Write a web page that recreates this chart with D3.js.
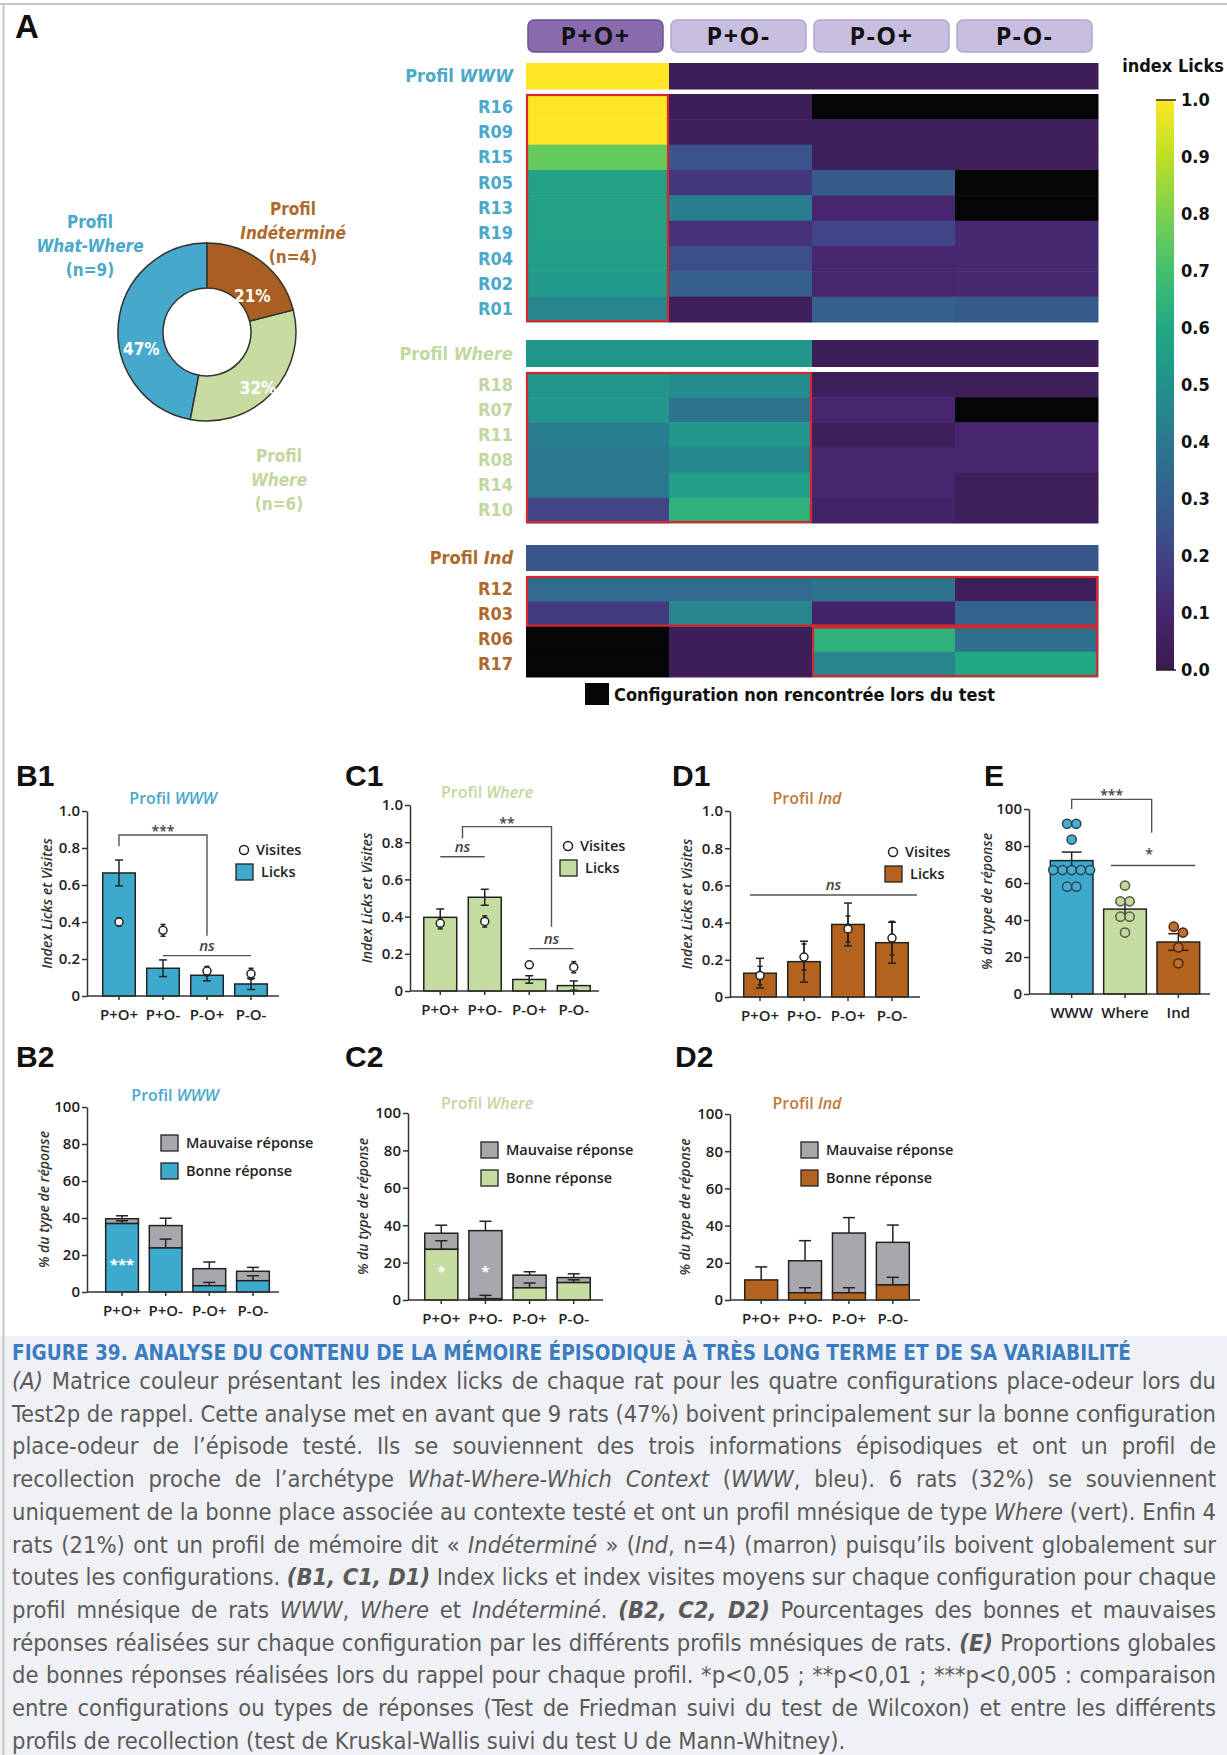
<!DOCTYPE html>
<html>
<head>
<meta charset="utf-8">
<script src="https://cdn.jsdelivr.net/npm/d3@7"></script>
<style>
  body { margin: 0; background: #fff; }
</style>
</head>
<body>
<svg id="fig"></svg>
<script>
// ---------- data ----------
const configs = ["P+O+", "P+O-", "P-O+", "P-O-"];
const profils = ["WWW", "Where", "Ind"];
const profilPct = [47, 32, 21];
const profilN = [9, 6, 4];
const profilLong = ["What-Where", "Where", "Indéterminé"];

// heatmap (index licks, null = configuration non rencontrée)
const rowsWWW = ["R16", "R09", "R15", "R05", "R13", "R19", "R04", "R02", "R01"];
const meanWWW = [1.00, 0.03, 0.03, 0.03];
const licksWWW = [
  [1.00, 0.03, null, null],
  [1.00, 0.04, 0.04, 0.04],
  [0.76, 0.26, 0.04, 0.04],
  [0.57, 0.16, 0.29, null],
  [0.57, 0.42, 0.10, null],
  [0.57, 0.14, 0.20, 0.11],
  [0.56, 0.24, 0.10, 0.11],
  [0.54, 0.30, 0.09, 0.11],
  [0.45, 0.04, 0.30, 0.28]
];
const rowsWhere = ["R18", "R07", "R11", "R08", "R14", "R10"];
const meanWhere = [0.52, 0.52, 0.03, 0.03];
const licksWhere = [
  [0.52, 0.48, 0.04, 0.04],
  [0.52, 0.38, 0.10, null],
  [0.42, 0.52, 0.04, 0.10],
  [0.40, 0.46, 0.10, 0.10],
  [0.40, 0.56, 0.10, 0.04],
  [0.20, 0.64, 0.08, 0.04]
];
const rowsInd = ["R12", "R03", "R06", "R17"];
const meanInd = [0.27, 0.27, 0.27, 0.27];
const licksInd = [
  [0.35, 0.35, 0.38, 0.04],
  [0.17, 0.45, 0.08, 0.32],
  [null, 0.03, 0.64, 0.37],
  [null, 0.03, 0.45, 0.60]
];
const colorbarTicks = [0, 0.1, 0.2, 0.3, 0.4, 0.5, 0.6, 0.7, 0.8, 0.9, 1.0];

// B1, C1, D1 : index licks (bars) and index visites (circles), mean +/- sem
const licksB1 = [0.665, 0.150, 0.112, 0.065];
const licksB1Err = [0.070, 0.045, 0.030, 0.030];
const visitesB1 = [0.400, 0.355, 0.135, 0.120];
const visitesB1Err = [0.022, 0.032, 0.025, 0.030];

const licksC1 = [0.396, 0.504, 0.062, 0.029];
const licksC1Err = [0.045, 0.043, 0.020, 0.025];
const visitesC1 = [0.364, 0.374, 0.141, 0.128];
const visitesC1Err = [0.030, 0.030, 0.015, 0.030];

const licksD1 = [0.128, 0.190, 0.390, 0.292];
const licksD1Err = [0.080, 0.110, 0.115, 0.110];
const visitesD1 = [0.115, 0.215, 0.366, 0.317];
const visitesD1Err = [0.050, 0.070, 0.070, 0.090];

// B2, C2, D2 : % bonne / mauvaise réponse
const bonneB2 = [37.0, 23.8, 3.4, 6.1];
const bonneB2Err = [1.5, 4.8, 1.8, 2.7];
const mauvaiseB2 = [2.6, 12.1, 9.2, 5.1];
const mauvaiseB2Err = [1.6, 4.0, 3.6, 2.1];

const bonneC2 = [27.1, 0.7, 6.5, 9.3];
const bonneC2Err = [4.6, 1.8, 2.6, 1.5];
const mauvaiseC2 = [8.6, 36.4, 6.8, 2.7];
const mauvaiseC2Err = [4.3, 5.0, 1.8, 2.0];

const bonneD2 = [10.8, 3.9, 3.9, 8.1];
const bonneD2Err = [7.0, 2.7, 2.7, 4.1];
const mauvaiseD2 = [0, 17.2, 32.1, 22.9];
const mauvaiseD2Err = [0, 10.8, 8.3, 9.3];

// E : % bonnes réponses par profil
const meanE = [72.1, 45.9, 28.1];
const errE = [4.6, 3.6, 4.5];
const pointsWWW = [92, 92, 83.5, 67, 67, 67, 67, 67, 58, 58];
const pointsWhere = [58.6, 50.1, 50.1, 41.8, 41.8, 33.2];
const pointsInd = [36.4, 33.2, 25.2, 16.6];

// ---------- style ----------
const SANS = "'Open Sans', 'Liberation Sans', sans-serif";
const NARROW = "'Liberation Sans Narrow', 'Arial Narrow', 'DejaVu Sans Condensed', sans-serif";
const BOLD = "'Liberation Sans', Arial, sans-serif";
const col = {
  WWW: "#3da9cd", Where: "#c6dda1", Ind: "#b4631f", gray: "#a8a8ac",
  txtWWW: "#4aa8ca", txtWhere: "#c2d7a0", txtInd: "#ad6a2b", titleInd: "#bd7b3e"
};

const W = 1227, H = 1755;
const svg = d3.select("#fig").attr("width", W).attr("height", H);

svg.append("rect").attr("width", W).attr("height", H).attr("fill", "#fff");
svg.append("rect").attr("x", 0).attr("y", 1336).attr("width", W).attr("height", H - 1336).attr("fill", "#f0f1f4");
svg.append("line").attr("x1", 0).attr("x2", W).attr("y1", 4).attr("y2", 4).attr("stroke", "#c6c6c6").attr("stroke-width", 2);
svg.append("line").attr("x1", 3.5).attr("x2", 3.5).attr("y1", 4).attr("y2", H).attr("stroke", "#c6c6c6").attr("stroke-width", 2);

// panel letter
function letter(t, x, y, size) {
  svg.append("text").attr("x", x).attr("y", y).text(t)
    .style("font-family", BOLD).style("font-weight", "bold").style("font-size", (size || 30) + "px").attr("fill", "#111");
}
letter("A", 15, 38, 33);

// ---------- donut ----------
const donut = svg.append("g").attr("transform", "translate(207,332)");
const pie = d3.pie().sort(null).value(d => d).startAngle(2 * Math.PI).endAngle(0);
const arcs = pie(profilPct);
const arc = d3.arc().innerRadius(44).outerRadius(89);
donut.selectAll("path").data(arcs).join("path")
  .attr("d", arc)
  .attr("fill", (d, i) => ["#46a9cb", "#c8dca2", "#a95f22"][i])
  .attr("stroke", "#333").attr("stroke-width", 1.5);
// where inside each slice the percentage sits (fraction of the slice, radius)
const labelFrac = [0.38, 0.54, 0.68];
const labelR = [68, 76, 58];
function labelAngle(d, i) {
  const a0 = Math.min(d.startAngle, d.endAngle), a1 = Math.max(d.startAngle, d.endAngle);
  return a0 + (a1 - a0) * labelFrac[i];
}
donut.selectAll("text.pct").data(arcs).join("text")
  .attr("class", "pct")
  .attr("x", (d, i) => Math.sin(labelAngle(d, i)) * labelR[i])
  .attr("y", (d, i) => -Math.cos(labelAngle(d, i)) * labelR[i] + 6)
  .attr("text-anchor", "middle")
  .style("font-family", NARROW).style("font-weight", "bold").style("font-size", "17px")
  .attr("fill", "#fff")
  .text(d => d.data + "%");

const donutLabelPos = [[90, 222], [279, 456], [293, 209]];
const donutLabelCol = [col.txtWWW, col.txtWhere, col.txtInd];
profils.forEach((p, i) => {
  const [lx, ly] = donutLabelPos[i];
  const t = svg.append("text").attr("text-anchor", "middle")
    .style("font-family", NARROW).style("font-weight", "bold").style("font-size", "17px")
    .attr("fill", donutLabelCol[i]);
  t.append("tspan").attr("x", lx).attr("y", ly + 6).text("Profil");
  t.append("tspan").attr("x", lx).attr("y", ly + 30).style("font-style", "italic").text(profilLong[i]);
  t.append("tspan").attr("x", lx).attr("y", ly + 54).text("(n=" + profilN[i] + ")");
});

// ---------- heatmap ----------
const hmX = d3.scaleBand().domain(configs).range([526, 1098]);
const cmap = d3.piecewise(d3.interpolateRgb, [
  "#3a1a4e", "#47266f", "#414487", "#355f8d", "#2a788e", "#21918c",
  "#22a884", "#44bf70", "#7ad151", "#bddf26", "#fde725"
]);
const viridis = d3.scaleSequential(cmap).domain([0, 1]);
const hm = svg.append("g");

// tabs
hm.selectAll("rect.tab").data(configs).join("rect")
  .attr("x", d => hmX(d) + 2).attr("y", 20)
  .attr("width", hmX.bandwidth() - 8).attr("height", 32).attr("rx", 6)
  .attr("fill", (d, i) => i === 0 ? "#8a6cae" : "#c8bfe0")
  .attr("stroke", (d, i) => i === 0 ? "#6d5391" : "#b2a7cf").attr("stroke-width", 1.5);
hm.selectAll("text.tab").data(configs).join("text")
  .attr("x", d => hmX(d) + hmX.bandwidth() / 2 - 2).attr("y", 45)
  .attr("text-anchor", "middle")
  .style("font-family", SANS).style("font-weight", "bold").style("font-size", "25px")
  .style("letter-spacing", "1.5px")
  .attr("fill", "#111").text(d => d);

const groups = [
  { name: "WWW", color: col.txtWWW, rows: rowsWWW, vals: licksWWW, mean: meanWWW,
    prof: [63, 89.5], band: [94, 322], boxes: [[0, 1, 0, 9]] },
  { name: "Where", color: col.txtWhere, rows: rowsWhere, vals: licksWhere, mean: meanWhere,
    prof: [340, 367], band: [372, 523], boxes: [[0, 2, 0, 6]] },
  { name: "Ind", color: col.txtInd, rows: rowsInd, vals: licksInd, mean: meanInd,
    prof: [545, 571], band: [576, 677], boxes: [[0, 4, 0, 2], [2, 4, 2, 4]] }
];

function cellFill(v) { return v === null ? "#050505" : viridis(v); }

groups.forEach(g => {
  const y = d3.scaleBand().domain(g.rows).range(g.band);
  // profile row
  hm.append("g").selectAll("rect").data(g.mean).join("rect")
    .attr("x", (d, i) => hmX(configs[i])).attr("width", hmX.bandwidth() + 0.5)
    .attr("y", g.prof[0]).attr("height", g.prof[1] - g.prof[0])
    .attr("fill", d => cellFill(d));
  const pl = hm.append("text").attr("x", 513).attr("y", (g.prof[0] + g.prof[1]) / 2 + 6)
    .attr("text-anchor", "end")
    .style("font-family", NARROW).style("font-weight", "bold").style("font-size", "18px")
    .attr("fill", g.color);
  pl.append("tspan").text("Profil ");
  pl.append("tspan").style("font-style", "italic").text(g.name);

  // rats
  g.rows.forEach((r, ri) => {
    hm.append("g").selectAll("rect").data(g.vals[ri]).join("rect")
      .attr("x", (d, i) => hmX(configs[i])).attr("width", hmX.bandwidth() + 0.5)
      .attr("y", y(r)).attr("height", y.bandwidth() + 0.5)
      .attr("fill", d => cellFill(d));
    hm.append("text").attr("x", 513).attr("y", y(r) + y.bandwidth() / 2 + 6)
      .attr("text-anchor", "end")
      .style("font-family", NARROW).style("font-weight", "bold").style("font-size", "18px")
      .attr("fill", g.color).text(r);
  });
  // red boxes
  g.boxes.forEach(([c0, c1, r0, r1]) => {
    const x0 = hmX(configs[c0]);
    const x1 = c1 < configs.length ? hmX(configs[c1]) : hmX.range()[1];
    const y0 = y(g.rows[r0]);
    const y1 = r1 < g.rows.length ? y(g.rows[r1]) : g.band[1];
    hm.append("rect").attr("x", x0 + 1).attr("y", y0 + 1)
      .attr("width", x1 - x0 - 2).attr("height", y1 - y0 - 2)
      .attr("fill", "none").attr("stroke", "#d8262d").attr("stroke-width", 2.2);
  });
});

// missing-config legend
hm.append("rect").attr("x", 585).attr("y", 683).attr("width", 24).attr("height", 22).attr("fill", "#050505");
hm.append("text").attr("x", 614).attr("y", 701)
  .style("font-family", NARROW).style("font-weight", "bold").style("font-size", "18px")
  .attr("fill", "#111").text("Configuration non rencontrée lors du test");

// colorbar
const cbY = d3.scaleLinear().domain([0, 1]).range([670, 100]);
const defs = svg.append("defs");
const grad = defs.append("linearGradient").attr("id", "cb").attr("x1", 0).attr("y1", 1).attr("x2", 0).attr("y2", 0);
d3.range(0, 1.0001, 0.05).forEach(t => grad.append("stop").attr("offset", t).attr("stop-color", viridis(t)));
hm.append("rect").attr("x", 1156).attr("y", 100).attr("width", 18).attr("height", 570).attr("fill", "url(#cb)");
hm.append("line").attr("x1", 1156).attr("x2", 1176).attr("y1", 100).attr("y2", 100).attr("stroke", "#222").attr("stroke-width", 1.5);
hm.append("line").attr("x1", 1156).attr("x2", 1176).attr("y1", 670).attr("y2", 670).attr("stroke", "#222").attr("stroke-width", 1.5);
const cbAxis = hm.append("g").attr("transform", "translate(1176,0)")
  .call(d3.axisRight(cbY).tickValues(colorbarTicks).tickFormat(d3.format(".1f")).tickSize(0).tickPadding(5));
cbAxis.select(".domain").remove();
cbAxis.selectAll("text").style("font-family", NARROW).style("font-weight", "bold").style("font-size", "18px").attr("fill", "#111");
hm.append("text").attr("x", 1173).attr("y", 72).attr("text-anchor", "middle")
  .style("font-family", NARROW).style("font-weight", "bold").style("font-size", "18px")
  .attr("fill", "#111").text("index Licks");

// ---------- bar chart helpers ----------
function centerX(x, keys, dx) {
  return d3.mean([].concat(keys), k => x(k) + x.bandwidth() / 2) + (dx || 0);
}

function axes(g, x, y, o, tickVals, fmt, title) {
  const ya = g.append("g").attr("transform", `translate(${o.axisX},0)`)
    .call(d3.axisLeft(y).tickValues(tickVals).tickFormat(fmt).tickSize(5).tickSizeOuter(0).tickPadding(2));
  ya.select(".domain").attr("stroke", "#333").attr("stroke-width", 1.5);
  ya.selectAll("line").attr("stroke", "#333").attr("stroke-width", 1.5);
  ya.selectAll("text").style("font-family", SANS).style("font-weight", 600).style("font-size", "15px").attr("fill", "#222");
  const xa = g.append("g").attr("transform", `translate(0,${y(0)})`)
    .call(d3.axisBottom(x).tickSize(4).tickSizeOuter(0).tickPadding(9));
  xa.select(".domain").remove();
  xa.selectAll("line").attr("stroke", "#333").attr("stroke-width", 1.5);
  xa.selectAll("text").style("font-family", SANS).style("font-weight", 600).style("font-size", "15px").attr("fill", "#222");
  g.append("line").attr("x1", o.axisX).attr("x2", o.xEnd).attr("y1", y(0)).attr("y2", y(0))
    .attr("stroke", "#333").attr("stroke-width", 1.5);
  g.append("text").attr("transform", `translate(${o.axisX - o.titleOff},${(y.range()[0] + y.range()[1]) / 2}) rotate(-90)`)
    .attr("text-anchor", "middle")
    .style("font-family", SANS).style("font-style", "italic").style("font-weight", 600).style("font-size", "14px")
    .attr("fill", "#333").text(title);
}

function panelTitle(o, color, name) {
  const t = svg.append("text").attr("x", o.titleX).attr("y", o.titleY).attr("text-anchor", "middle")
    .style("font-family", SANS).style("font-weight", 600).style("font-size", "16px").attr("fill", color);
  t.append("tspan").text("Profil ");
  t.append("tspan").style("font-style", "italic").text(name);
}

function errBar(g, xc, yTop, yBot, half, upOnly) {
  g.append("line").attr("x1", xc).attr("x2", xc).attr("y1", yTop).attr("y2", yBot).attr("stroke", "#222").attr("stroke-width", 1.5);
  g.append("line").attr("x1", xc - half).attr("x2", xc + half).attr("y1", yTop).attr("y2", yTop).attr("stroke", "#222").attr("stroke-width", 1.5);
  if (!upOnly) g.append("line").attr("x1", xc - half).attr("x2", xc + half).attr("y1", yBot).attr("y2", yBot).attr("stroke", "#222").attr("stroke-width", 1.5);
}

function bracket(g, x, y, b) {
  const x0 = centerX(x, b.from), x1 = centerX(x, b.to);
  g.append("path").attr("d", `M${x0},${y(b.yl)}V${y(b.top)}H${x1}V${y(b.yr)}`)
    .attr("fill", "none").attr("stroke", "#555").attr("stroke-width", 1.4);
  g.append("text").attr("x", (x0 + x1) / 2).attr("y", y(b.top) + 1).attr("text-anchor", "middle")
    .style("font-family", SANS).style("font-weight", 600).style("font-size", "14px").attr("fill", "#444").text(b.label);
}

function sigLine(g, x, y, n) {
  const x0 = centerX(x, n.from, n.dx0), x1 = centerX(x, n.to, n.dx1);
  g.append("line").attr("x1", x0).attr("x2", x1).attr("y1", y(n.y)).attr("y2", y(n.y))
    .attr("stroke", "#555").attr("stroke-width", 1.4);
  g.append("text").attr("x", (x0 + x1) / 2 + (n.tdx || 0)).attr("y", y(n.y) - (n.label === "ns" ? 5 : 6)).attr("text-anchor", "middle")
    .style("font-family", SANS).style("font-weight", 600).style("font-size", n.label === "ns" ? "15px" : "14px")
    .style("font-style", n.label === "ns" ? "italic" : "normal").attr("fill", "#444").text(n.label);
}

function legendItem(g, kind, x, y, fill, label) {
  if (kind === "circle") {
    g.append("circle").attr("cx", x + 8).attr("cy", y).attr("r", 4.5).attr("fill", "#fff").attr("stroke", "#222").attr("stroke-width", 1.5);
  } else {
    g.append("rect").attr("x", x).attr("y", y - 8).attr("width", 17).attr("height", 16).attr("fill", fill).attr("stroke", "#222").attr("stroke-width", 1.3);
  }
  g.append("text").attr("x", x + (kind === "circle" ? 20 : 25)).attr("y", y + 5)
    .style("font-family", SANS).style("font-weight", 600).style("font-size", "14.5px").attr("fill", "#222").text(label);
}

// ---------- licks / visites panels ----------
function licksPanel(o) {
  const g = svg.append("g");
  const x = d3.scaleBand().domain(configs).range(o.xr).paddingInner(0.26).paddingOuter(0.13);
  const y = d3.scaleLinear().domain([0, 1]).range(o.yr);
  g.selectAll("rect.bar").data(o.licks).join("rect")
    .attr("x", (d, i) => x(configs[i])).attr("width", x.bandwidth())
    .attr("y", d => y(d)).attr("height", d => y(0) - y(d))
    .attr("fill", o.color).attr("stroke", "#222").attr("stroke-width", 1.5);
  o.licks.forEach((v, i) => {
    const xc = x(configs[i]) + x.bandwidth() / 2;
    errBar(g, xc, y(v + o.licksErr[i]), y(v - o.licksErr[i]), 4);
  });
  o.visites.forEach((v, i) => {
    const xc = x(configs[i]) + x.bandwidth() / 2;
    errBar(g, xc, y(v + o.visitesErr[i]), y(v - o.visitesErr[i]), 2.5);
    g.append("circle").attr("cx", xc).attr("cy", y(v)).attr("r", 4)
      .attr("fill", "#fff").attr("stroke", "#222").attr("stroke-width", 1.5);
  });
  axes(g, x, y, o, [0, 0.2, 0.4, 0.6, 0.8, 1.0], d => d === 0 ? "0" : d3.format(".1f")(d), "Index Licks et Visites");
  (o.brackets || []).forEach(b => bracket(g, x, y, b));
  (o.lines || []).forEach(n => sigLine(g, x, y, n));
  legendItem(g, "circle", o.leg[0], o.leg[1], "#fff", "Visites");
  legendItem(g, "rect", o.leg[0], o.leg[1] + 22, o.color, "Licks");
}

letter("B1", 16, 786);
panelTitle({ titleX: 173, titleY: 804 }, col.txtWWW, "WWW");
licksPanel({
  xr: [97, 273], yr: [996, 811], axisX: 87, xEnd: 279, titleOff: 35, color: col.WWW,
  licks: licksB1, licksErr: licksB1Err, visites: visitesB1, visitesErr: visitesB1Err,
  brackets: [{ from: "P+O+", to: "P-O+", yl: 0.81, top: 0.87, yr: 0.326, label: "***" }],
  lines: [{ from: "P+O-", to: "P-O-", y: 0.218, label: "ns" }],
  leg: [236, 850]
});

letter("C1", 345, 786);
panelTitle({ titleX: 487, titleY: 798 }, col.txtWhere, "Where");
licksPanel({
  xr: [418, 596], yr: [991, 805], axisX: 410, xEnd: 599, titleOff: 38, color: col.Where,
  licks: licksC1, licksErr: licksC1Err, visites: visitesC1, visitesErr: visitesC1Err,
  brackets: [{ from: ["P+O+", "P+O-"], to: ["P-O+", "P-O-"], yl: 0.82, top: 0.884, yr: 0.346, label: "**" }],
  lines: [{ from: "P+O+", to: "P+O-", y: 0.722, label: "ns" }, { from: "P-O+", to: "P-O-", y: 0.228, label: "ns" }],
  leg: [560, 846]
});

letter("D1", 672, 786);
panelTitle({ titleX: 807, titleY: 804 }, col.titleInd, "Ind");
licksPanel({
  xr: [738, 914], yr: [997, 811], axisX: 730, xEnd: 920, titleOff: 38, color: col.Ind,
  licks: licksD1, licksErr: licksD1Err, visites: visitesD1, visitesErr: visitesD1Err,
  lines: [{ from: "P+O+", to: "P-O-", dx0: -10, dx1: 25, y: 0.548, label: "ns" }],
  leg: [885, 852]
});

// ---------- stacked panels ----------
function stackPanel(o) {
  const g = svg.append("g");
  const x = d3.scaleBand().domain(configs).range(o.xr).paddingInner(0.25).paddingOuter(0.13);
  const y = d3.scaleLinear().domain([0, 100]).range(o.yr);
  const half = 6;
  configs.forEach((c, i) => {
    const b = o.bonne[i], m = o.mauvaise[i];
    const xc = x(c) + x.bandwidth() / 2;
    if (m > 0) {
      errBar(g, xc, y(b + m + o.mauvaiseErr[i]), y(b + m), half, true);
      g.append("rect").attr("x", x(c)).attr("width", x.bandwidth())
        .attr("y", y(b + m)).attr("height", y(b) - y(b + m))
        .attr("fill", col.gray).attr("stroke", "#222").attr("stroke-width", 1.5);
    }
    errBar(g, xc, y(b + o.bonneErr[i]), y(b), half, true);
    g.append("rect").attr("x", x(c)).attr("width", x.bandwidth())
      .attr("y", y(b)).attr("height", y(0) - y(b))
      .attr("fill", o.color).attr("stroke", "#222").attr("stroke-width", 1.5);
    if (o.stars[i]) {
      g.append("text").attr("x", xc).attr("y", y(o.starLevel) + 8).attr("text-anchor", "middle")
        .style("font-family", SANS).style("font-weight", "bold").style("font-size", "15px")
        .attr("fill", "#fff").text(o.stars[i]);
    }
  });
  axes(g, x, y, o, [0, 20, 40, 60, 80, 100], d3.format("d"), "% du type de réponse");
  legendItem(g, "rect", o.leg[0], o.leg[1], col.gray, "Mauvaise réponse");
  legendItem(g, "rect", o.leg[0], o.leg[1] + 28, o.color, "Bonne réponse");
}

letter("B2", 16, 1067);
panelTitle({ titleX: 175, titleY: 1101 }, col.txtWWW, "WWW");
stackPanel({
  xr: [100, 275], yr: [1292, 1107], axisX: 87, xEnd: 279, titleOff: 38, color: col.WWW,
  bonne: bonneB2, bonneErr: bonneB2Err, mauvaise: mauvaiseB2, mauvaiseErr: mauvaiseB2Err,
  stars: ["***", "", "", ""], starLevel: 16, leg: [161, 1143]
});

letter("C2", 345, 1067);
panelTitle({ titleX: 487, titleY: 1109 }, col.txtWhere, "Where");
stackPanel({
  xr: [419, 596], yr: [1300, 1113], axisX: 408, xEnd: 603, titleOff: 40, color: col.Where,
  bonne: bonneC2, bonneErr: bonneC2Err, mauvaise: mauvaiseC2, mauvaiseErr: mauvaiseC2Err,
  stars: ["*", "*", "", ""], starLevel: 16.7, leg: [481, 1150]
});

letter("D2", 675, 1067);
panelTitle({ titleX: 807, titleY: 1109 }, col.titleInd, "Ind");
stackPanel({
  xr: [739, 915], yr: [1300, 1114], axisX: 730, xEnd: 920, titleOff: 40, color: col.Ind,
  bonne: bonneD2, bonneErr: bonneD2Err, mauvaise: mauvaiseD2, mauvaiseErr: mauvaiseD2Err,
  stars: ["", "", "", ""], starLevel: 0, leg: [801, 1150]
});

// ---------- E ----------
letter("E", 984, 786);
(function () {
  const o = { axisX: 1029, xEnd: 1210, titleOff: 37 };
  const g = svg.append("g");
  const x = d3.scaleBand().domain(profils).range([1045, 1205]).paddingInner(0.2).paddingOuter(0.1);
  const y = d3.scaleLinear().domain([0, 100]).range([994, 809]);
  const barCol = [col.WWW, col.Where, col.Ind];
  const ptFill = ["#46aed1", "#c3d79f", "#bf6d29"];
  const ptStroke = ["#2c4650", "#545f42", "#4b2a10"];
  const pts = [pointsWWW, pointsWhere, pointsInd];
  g.selectAll("rect").data(meanE).join("rect")
    .attr("x", (d, i) => x(profils[i])).attr("width", x.bandwidth())
    .attr("y", d => y(d)).attr("height", d => y(0) - y(d))
    .attr("fill", (d, i) => barCol[i]).attr("stroke", "#222").attr("stroke-width", 1.5);
  meanE.forEach((m, i) => {
    const xc = x(profils[i]) + x.bandwidth() / 2;
    errBar(g, xc, y(m + errE[i]), y(m - errE[i]), 10);
  });
  // points spread horizontally when they sit at nearly the same level
  const r = 4.6;
  pts.forEach((vals, i) => {
    const xc = x(profils[i]) + x.bandwidth() / 2;
    const sorted = vals.slice().sort((a, b) => b - a);
    const rowsP = [];
    sorted.forEach(v => {
      const last = rowsP[rowsP.length - 1];
      if (last && Math.abs(y(last[0]) - y(v)) < 2 * r - 2) last.push(v); else rowsP.push([v]);
    });
    rowsP.forEach(row => {
      row.forEach((v, k) => {
        g.append("circle").attr("cx", xc + (k - (row.length - 1) / 2) * 2 * r).attr("cy", y(v)).attr("r", r)
          .attr("fill", ptFill[i]).attr("stroke", ptStroke[i]).attr("stroke-width", 1.5);
      });
    });
  });
  axes(g, x, y, o, [0, 20, 40, 60, 80, 100], d3.format("d"), "% du type de réponse");
  bracket(g, x, y, { from: "WWW", to: ["Where", "Ind"], yl: 100, top: 105.2, yr: 87.2, label: "***" });
  sigLine(g, x, y, { from: "Where", to: "Ind", dx0: -14, dx1: 17, y: 69.5, label: "*", tdx: -4 });
})();

// ---------- caption ----------
const captionTitle = "FIGURE 39. ANALYSE DU CONTENU DE LA MÉMOIRE ÉPISODIQUE À TRÈS LONG TERME ET DE SA VARIABILITÉ";
const captionLines = [
  [["(A)", "i"], [" Matrice couleur présentant les index licks de chaque rat pour les quatre configurations place-odeur lors du"]],
  [["Test2p de rappel. Cette analyse met en avant que 9 rats (47%) boivent principalement sur la bonne configuration"]],
  [["place-odeur de l’épisode testé. Ils se souviennent des trois informations épisodiques et ont un profil de"]],
  [["recollection proche de l’archétype "], ["What-Where-Which Context", "i"], [" ("], ["WWW", "i"], [", bleu). 6 rats (32%) se souviennent"]],
  [["uniquement de la bonne place associée au contexte testé et ont un profil mnésique de type "], ["Where", "i"], [" (vert). Enfin 4"]],
  [["rats (21%) ont un profil de mémoire dit « "], ["Indéterminé", "i"], [" » ("], ["Ind", "i"], [", n=4) (marron) puisqu’ils boivent globalement sur"]],
  [["toutes les configurations. "], ["(B1, C1, D1)", "bi"], [" Index licks et index visites moyens sur chaque configuration pour chaque"]],
  [["profil mnésique de rats "], ["WWW", "i"], [", "], ["Where", "i"], [" et "], ["Indéterminé", "i"], [". "], ["(B2, C2, D2)", "bi"], [" Pourcentages des bonnes et mauvaises"]],
  [["réponses réalisées sur chaque configuration par les différents profils mnésiques de rats. "], ["(E)", "bi"], [" Proportions globales"]],
  [["de bonnes réponses réalisées lors du rappel pour chaque profil. *p<0,05 ; **p<0,01 ; ***p<0,005 : comparaison"]],
  [["entre configurations ou types de réponses (Test de Friedman suivi du test de Wilcoxon) et entre les différents"]],
  [["profils de recollection (test de Kruskal-Wallis suivi du test U de Mann-Whitney)."]]
];

const cap = svg.append("g");
const capT = cap.append("text").attr("x", 12).attr("y", 1360)
  .style("font-family", NARROW).style("font-weight", "bold").style("font-size", "24px")
  .attr("fill", "#3b7cc1").text(captionTitle);
const capW = capT.node().getComputedTextLength();
capT.style("font-size", Math.min(24, 24 * 1120 / capW) + "px");

captionLines.forEach((segs, li) => {
  const t = cap.append("text").attr("x", 12).attr("y", 1389 + li * 32.7)
    .style("white-space", "pre")
    .style("font-family", NARROW).style("font-size", "23.5px").attr("fill", "#5a5a5a");
  segs.forEach(([s, st]) => {
    t.append("tspan").text(s)
      .style("font-style", st ? "italic" : "normal")
      .style("font-weight", st === "bi" ? "bold" : "normal");
  });
  if (li < captionLines.length - 1) {
    const target = 1204;
    const w = t.node().getComputedTextLength();
    const nSp = segs.map(s => s[0]).join("").split(" ").length - 1;
    const ws = (target - w) / nSp;
    if (ws > -2.5) t.style("word-spacing", ws + "px");
    else t.attr("textLength", target).attr("lengthAdjust", "spacingAndGlyphs");
  }
});
</script>
</body>
</html>
